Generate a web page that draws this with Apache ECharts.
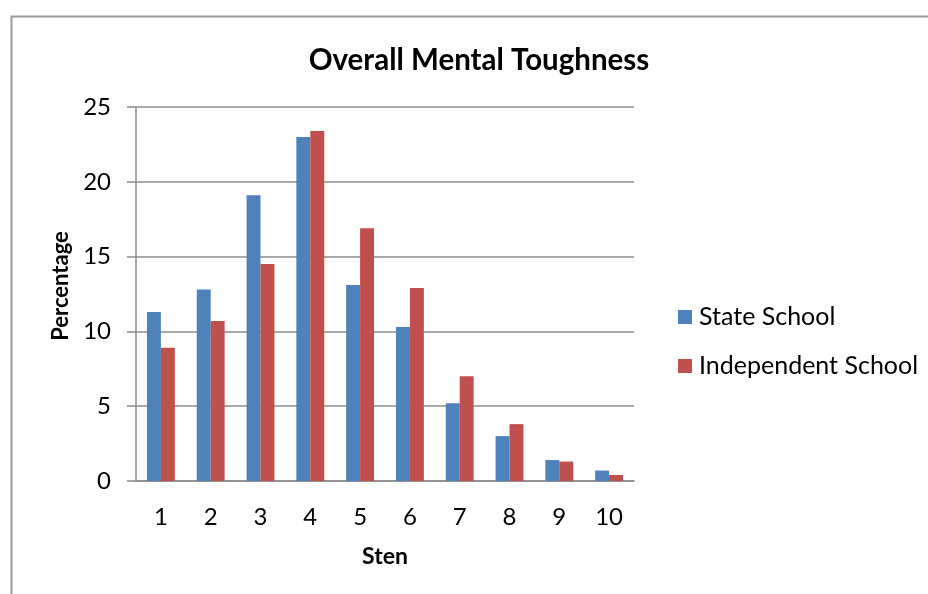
<!DOCTYPE html>
<html>
<head>
<meta charset="utf-8">
<script src="https://cdn.jsdelivr.net/npm/echarts@6/dist/echarts.min.js"></script>
<style>
  html, body { margin: 0; padding: 0; background: #fff; }
  #chart { width: 928px; height: 594px; }
</style>
</head>
<body>
<div id="chart"></div>
<script>
// Sten categories and percentage of pupils in each band
const stens = ['1', '2', '3', '4', '5', '6', '7', '8', '9', '10'];
const stateSchool = [11.3, 12.8, 19.1, 23.0, 13.1, 10.3, 5.2, 3.0, 1.4, 0.7];
const independentSchool = [8.9, 10.7, 14.5, 23.4, 16.9, 12.9, 7.0, 3.8, 1.3, 0.4];
const yTicks = { min: 0, max: 25, interval: 5 };

const FONT = 'Lato, "Open Sans", sans-serif';
const GRID_GRAY = '#8c8c8c';

const chart = echarts.init(document.getElementById('chart'), null, { renderer: 'canvas' });

chart.setOption({
  backgroundColor: '#ffffff',
  animation: false,
  textStyle: { fontFamily: FONT, color: '#000' },
  title: {
    text: 'Overall Mental Toughness',
    left: 474,
    top: 40,
    textAlign: 'center',
    textStyle: { fontFamily: FONT, fontSize: 29.5, fontWeight: 'bold', color: '#000' }
  },
  graphic: [{
    type: 'rect',
    left: 9, top: 14,
    shape: { width: 1000, height: 700 },
    style: { fill: 'none', stroke: '#9a9a9a', lineWidth: 2 },
    silent: true
  }],
  legend: {
    orient: 'vertical',
    left: 678,
    top: 304,
    padding: 0,
    itemWidth: 14,
    itemHeight: 14,
    itemGap: 23,
    icon: 'rect',
    textStyle: { fontFamily: FONT, fontSize: 25, color: '#000', lineHeight: 26, padding: [0, 0, 0, 2] },
    data: ['State School', 'Independent School']
  },
  grid: { left: 136, right: 294, top: 107, bottom: 113, containLabel: false },
  xAxis: {
    type: 'category',
    data: stens,
    name: 'Sten',
    nameLocation: 'middle',
    nameGap: 64,
    nameTextStyle: { fontFamily: FONT, fontSize: 23, fontWeight: 'bold', color: '#000' },
    axisLine: { show: true, lineStyle: { color: GRID_GRAY, width: 1.5 } },
    axisTick: { show: false },
    axisLabel: { fontFamily: FONT, fontSize: 24, color: '#000', margin: 24 }
  },
  yAxis: {
    type: 'value',
    min: yTicks.min,
    max: yTicks.max,
    interval: yTicks.interval,
    name: 'Percentage',
    nameLocation: 'middle',
    nameGap: 62,
    nameTextStyle: { fontFamily: FONT, fontSize: 22, fontWeight: 'bold', color: '#000', padding: [0, 0, 0, 16] },
    axisLine: { show: true, lineStyle: { color: GRID_GRAY, width: 1.5 } },
    axisTick: { show: true, inside: false, length: 9, lineStyle: { color: GRID_GRAY, width: 1.5 } },
    axisLabel: { fontFamily: FONT, fontSize: 24, color: '#000', margin: 25 },
    splitLine: { show: true, lineStyle: { color: GRID_GRAY, width: 1.5 } }
  },
  series: [
    {
      name: 'State School',
      type: 'bar',
      data: stateSchool,
      barGap: '0%',
      barCategoryGap: '44%',
      itemStyle: { color: '#4F81BD' }
    },
    {
      name: 'Independent School',
      type: 'bar',
      data: independentSchool,
      barGap: '0%',
      barCategoryGap: '44%',
      itemStyle: { color: '#C0504D' }
    }
  ]
});
</script>
</body>
</html>
